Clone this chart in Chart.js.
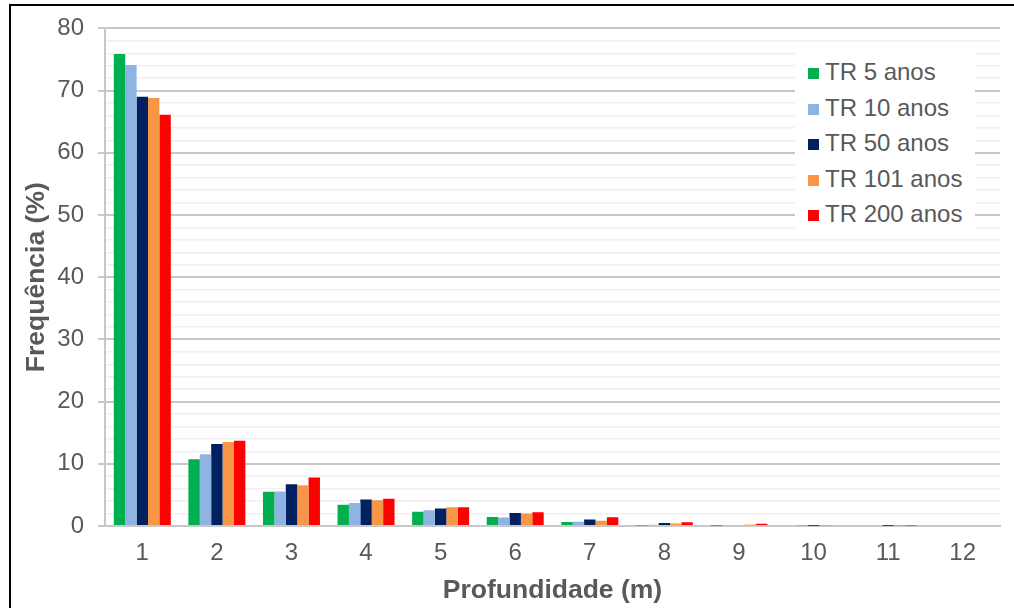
<!DOCTYPE html>
<html>
<head>
<meta charset="utf-8">
<script src="https://cdn.jsdelivr.net/npm/chart.js@4"></script>
<style>
  body { margin: 0; background: #fff; }
  #wrap { position: relative; width: 1014px; height: 608px; }
  #legenda {
    position: absolute; left: 795px; top: 50px; width: 180px; height: 184px;
    background: #fff; font-family: "Liberation Sans", Arial, sans-serif;
    font-size: 24px; color: #595959;
  }
  .item { position: absolute; left: 13px; height: 30px; line-height: 30px; white-space: nowrap; }
  .item i { display: inline-block; width: 11px; height: 11px; margin-right: 6px; vertical-align: 1px; }
</style>
</head>
<body>
<div id="wrap">
  <canvas id="grafico" width="1014" height="608"></canvas>
  <div id="legenda"></div>
</div>
<script>
const categorias = ['1', '2', '3', '4', '5', '6', '7', '8', '9', '10', '11', '12'];
const nomes = ['TR 5 anos', 'TR 10 anos', 'TR 50 anos', 'TR 101 anos', 'TR 200 anos'];
const cores = ['#00B050', '#8EB4E3', '#002060', '#F79646', '#FF0000'];

const tr5   = [75.9, 10.75, 5.5, 3.4, 2.3, 1.45, 0.65, 0.1, 0.05, 0, 0, 0];
const tr10  = [74.1, 11.55, 5.55, 3.7, 2.55, 1.35, 0.7, 0.2, 0.15, 0.05, 0, 0];
const tr50  = [69.0, 13.2, 6.7, 4.25, 2.8, 2.1, 1.05, 0.5, 0.15, 0.05, 0.05, 0];
const tr101 = [68.8, 13.5, 6.55, 4.15, 3.0, 2.0, 0.85, 0.4, 0.25, 0.05, 0.05, 0];
const tr200 = [66.1, 13.7, 7.8, 4.4, 3.0, 2.2, 1.4, 0.6, 0.35, 0.15, 0.1, 0];
const series = [tr5, tr10, tr50, tr101, tr200];

const fonte = '"Liberation Sans", Arial, sans-serif';
const cinzaTexto = '#595959';

// moldura preta (borda esquerda e superior do quadro)
const moldura = {
    id: 'moldura',
    beforeDraw(chart) {
        const c = chart.ctx;
        c.save();
        c.fillStyle = '#fff';
        c.fillRect(0, 0, chart.width, chart.height);
        c.fillStyle = '#000';
        c.fillRect(9, 4, 2, chart.height - 4);
        c.fillRect(9, 4, chart.width - 9, 2);
        c.restore();
    }
};

new Chart(document.getElementById('grafico'), {
    type: 'bar',
    data: {
        labels: categorias,
        datasets: series.map((s, i) => ({
            label: nomes[i], data: s, backgroundColor: cores[i], borderWidth: 0,
            categoryPercentage: 0.764, barPercentage: 1
        }))
    },
    options: {
        responsive: false, animation: false, devicePixelRatio: 1,
        layout: { padding: { left: 0, right: 14, top: 25, bottom: 0 } },
        plugins: { legend: { display: false }, tooltip: { enabled: false } },
        scales: {
            x: {
                grid: { display: false, drawTicks: false },
                border: { display: true, color: '#c8c8c8', width: 2 },
                ticks: { color: cinzaTexto, font: { family: fonte, size: 24 }, padding: 13 },
                title: { display: true, text: 'Profundidade (m)', color: cinzaTexto,
                         font: { family: fonte, size: 26.5, weight: 'bold' }, padding: { top: 0, bottom: 1 } },
                afterFit: s => { s.height = 82; }
            },
            y: {
                min: 0, max: 80,
                ticks: {
                    stepSize: 2, autoSkip: false, color: cinzaTexto, padding: 14,
                    font: { family: fonte, size: 24 },
                    callback: v => (v % 10 === 0 ? v : '')
                },
                grid: {
                    color: c => (c.tick.value % 10 === 0 ? '#c8c8c8' : '#f0f0f0'),
                    lineWidth: c => (c.tick.value % 10 === 0 ? 2 : 1.5),
                    tickColor: c => (c.tick.value % 10 === 0 ? '#c8c8c8' : 'rgba(0,0,0,0)'),
                    tickLength: 7
                },
                border: { display: true, color: '#c8c8c8', width: 2 },
                title: { display: true, text: 'Frequência (%)', color: cinzaTexto,
                         font: { family: fonte, size: 26.5, weight: 'bold' }, padding: { top: 21, bottom: 0 } },
                afterFit: s => { s.width = 105; }
            }
        }
    },
    plugins: [moldura]
});

// legenda em HTML sobre a área do gráfico
const leg = document.getElementById('legenda');
nomes.forEach((n, i) => {
    const d = document.createElement('div');
    d.className = 'item';
    d.style.top = (7 + i * 35.5) + 'px';
    d.innerHTML = `<i style="background:${cores[i]}"></i>${n}`;
    leg.appendChild(d);
});
</script>
</body>
</html>
